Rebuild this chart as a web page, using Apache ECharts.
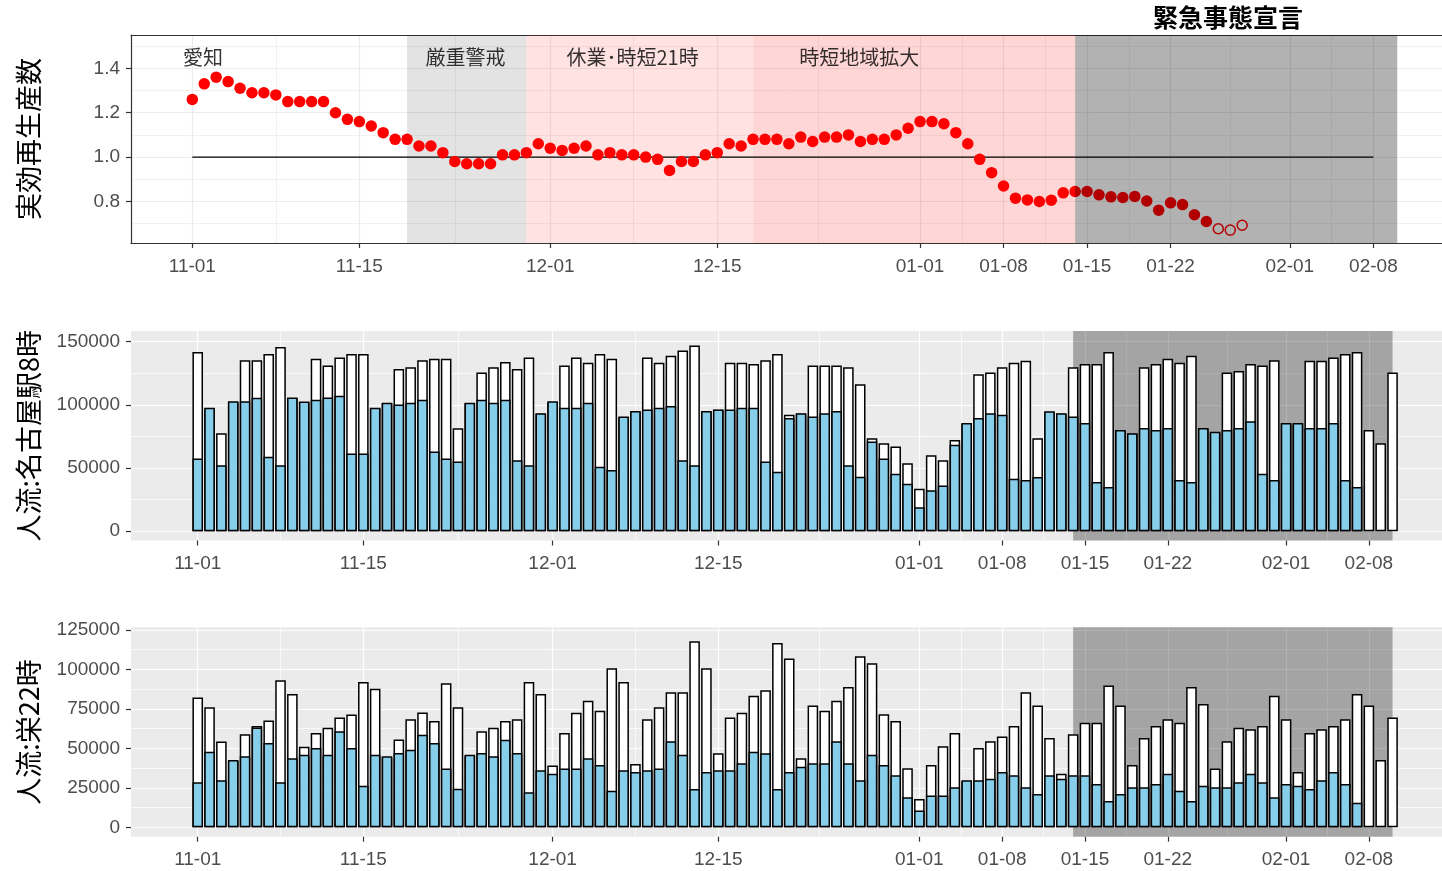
<!DOCTYPE html>
<html><head><meta charset="utf-8">
<script src="https://cdn.jsdelivr.net/npm/echarts@6/dist/echarts.min.js"></script>
<style>html,body{margin:0;padding:0;background:#fff}#c{width:1442px;height:871px}</style>
</head><body><div id="c"></div>
<script>
// ---- x axis (day offset from 11-01) ----
const tickDays = [0, 14, 30, 44, 61, 68, 75, 82, 92, 99];
const tickLabels = ['11-01', '11-15', '12-01', '12-15', '01-01', '01-08', '01-15', '01-22', '02-01', '02-08'];
const minorDays = [7, 22, 37, 52.5, 64.5, 71.5, 78.5, 87, 95.5];

// ---- effective reproduction number ----
const rFirm = [1.26, 1.33, 1.36, 1.34, 1.31, 1.29, 1.29, 1.28, 1.25, 1.25, 1.25, 1.25, 1.20, 1.17, 1.16, 1.14, 1.11, 1.08, 1.08, 1.05,
  1.05, 1.02, 0.98, 0.97, 0.97, 0.97, 1.01, 1.01, 1.02, 1.06, 1.04, 1.03, 1.04, 1.05, 1.01, 1.02, 1.01, 1.01, 1.00, 0.99,
  0.94, 0.98, 0.98, 1.01, 1.02, 1.06, 1.05, 1.08, 1.08, 1.08, 1.06, 1.09, 1.07, 1.09, 1.09, 1.10, 1.07, 1.08, 1.08, 1.10,
  1.13, 1.16, 1.16, 1.15, 1.11, 1.06, 0.99, 0.93, 0.87, 0.815, 0.807, 0.80, 0.806, 0.839, 0.845, 0.845, 0.83, 0.821, 0.818, 0.823,
  0.802, 0.761, 0.794, 0.786, 0.74, 0.71];
const rProvisional = [0.677, 0.671, 0.693];
const refLineDays = [0, 99];
const refValue = 1;

// ---- shaded periods (top panel) ----
const periodStart = [18, 28, 47];
const periodEnd = [28, 47, 74];
const emergencyStart = [74];
const emergencyEnd = [101];
const emergencyTitle = '緊急事態宣言';
const annotText = ['愛知', '厳重警戒', '休業･時短21時', '時短地域拡大'];
const annotDay = [0.9, 22.9, 36.9, 55.9];
const annotValue = [1.45, 1.45, 1.45, 1.45];

// ---- 人流: 名古屋駅 8時 ----
const nagoyaWhite = [141700, 97000, 77400, 102000, 135200, 135200, 140200, 145700, 105000, 102000,
  136500, 131000, 137500, 140200, 140200, 97000, 101000, 128400, 129700, 135200,
  136500, 136500, 81400, 101000, 125500, 129700, 133900, 128400, 137500, 93000,
  102000, 131000, 137500, 133300, 140200, 136500, 90000, 94500, 137500, 133300,
  138900, 143000, 147000, 94500, 96000, 133300, 133300, 132300, 135200, 140200,
  92100, 93000, 131000, 131000, 131000, 129700, 116300, 73500, 69600, 66900,
  53800, 33600, 60100, 56200, 72200, 85000, 124200, 125500, 129700, 133300,
  134900, 73500, 94000, 93000, 129700, 132300, 132300, 141700, 79500, 77000,
  129700, 132300, 136500, 133300, 138900, 81000, 78000, 125500, 126800, 132300,
  131000, 135200, 85000, 85000, 134900, 134900, 137500, 140200, 141700, 80100,
  69600, 125500];
const nagoyaBlue = [57500, 97600, 52200, 102900, 102900, 105500, 58800, 52200, 105800, 102600,
  104000, 105800, 107100, 61400, 61400, 97600, 101600, 100300, 101600, 104000,
  63000, 57500, 55100, 101600, 104000, 101600, 104000, 56200, 52200, 93400,
  102900, 97600, 97600, 101600, 50900, 48300, 90800, 95000, 96300, 97600,
  99000, 56200, 52200, 95000, 96300, 96300, 97600, 97600, 55100, 47000,
  89500, 93400, 90800, 93400, 95000, 52200, 43100, 70900, 57500, 45400,
  37500, 18900, 32300, 36200, 68300, 85600, 89500, 93400, 92100, 41500,
  40400, 42800, 94800, 93400, 90800, 85600, 38800, 34900, 80100, 77400,
  81600, 80100, 81600, 40400, 38800, 81600, 78700, 80100, 81600, 86900,
  45400, 40400, 85600, 85600, 81600, 81600, 85600, 40400, 34900];

// ---- 人流: 栄 22時 ----
const sakaeWhite = [82300, 76000, 54300, 42000, 58900, 64200, 67600, 93100, 84400, 51100,
  59700, 63100, 69500, 71400, 92000, 87800, 44000, 55700, 68400, 72800,
  67300, 91200, 76000, 45000, 60800, 63100, 67300, 68400, 92000, 84400,
  39100, 59700, 72600, 80200, 73900, 100700, 92000, 40100, 68400, 76000,
  85500, 85500, 117800, 100700, 46900, 69500, 72600, 83400, 86800, 116700,
  107000, 43700, 77100, 73900, 80200, 88900, 108300, 103900, 71600, 67300,
  37400, 17900, 39500, 51300, 59700, 29000, 50200, 54500, 57600, 64200,
  85500, 77100, 56600, 34000, 58900, 66300, 66300, 89900, 77100, 39500,
  56600, 64200, 68400, 66300, 88900, 78100, 37200, 54500, 63100, 62100,
  64200, 83400, 68400, 35000, 59700, 62100, 64200, 68400, 84400, 77100,
  42600, 69500];
const sakaeBlue = [28500, 47900, 29800, 42600, 45000, 63300, 53400, 28500, 43700, 46000,
  50200, 46000, 60800, 50200, 26400, 46000, 45000, 47100, 49200, 58700,
  53400, 37200, 24500, 46000, 47100, 45000, 55500, 47100, 22200, 36100,
  34000, 37200, 37200, 43700, 39500, 23200, 36100, 35000, 36100, 37200,
  54500, 46000, 24300, 35000, 36100, 36100, 40500, 47900, 46900, 24300,
  35000, 38400, 40500, 40500, 54500, 40500, 29800, 46000, 39500, 32900,
  19000, 10600, 20100, 20100, 25300, 29800, 29800, 30800, 35000, 32900,
  25300, 21100, 32900, 30800, 32900, 32900, 27400, 16700, 21100, 25300,
  25300, 27400, 34000, 23200, 16700, 26400, 25300, 25300, 28500, 34000,
  28500, 19000, 27400, 26400, 24300, 29800, 35000, 27400, 15600];

// ---- styling ----
const LBL = { color: '#4d4d4d', fontSize: 19, fontFamily: 'Liberation Sans, Arial, sans-serif' };
const JP = 'Noto Sans CJK JP';
const pts = arr => arr.map((v, i) => [i, v]);

function regionItem(colors) {
  return function (params, api) {
    const cs = params.coordSys;
    const x0 = api.coord([api.value(0), api.value(1)])[0];
    const x1 = api.coord([api.value(1), api.value(1)])[0];
    return { type: 'rect', shape: { x: x0, y: cs.y, width: x1 - x0, height: cs.height },
      style: { fill: colors[api.value(2)] }, silent: true };
  };
}
const lightColors = ['rgba(0,0,0,0.11)', 'rgba(255,0,0,0.11)', 'rgba(255,0,0,0.16)'];
const darkColors = ['rgba(0,0,0,0.3)'];
const lightData = periodStart.map((s, i) => [s, periodEnd[i], i]);
const darkData = emergencyStart.map((s, i) => [s, emergencyEnd[i], 0]);

const grids = [
  { left: 131, right: 0, top: 35, height: 208, show: true, backgroundColor: '#fff', borderWidth: 0 },
  { left: 131, right: 0, top: 331, height: 209.5, show: true, backgroundColor: '#ebebeb', borderWidth: 0 },
  { left: 131, right: 0, top: 627.3, height: 209.4, show: true, backgroundColor: '#ebebeb', borderWidth: 0 }
];
const xRange = [[-5.14, 104.75], [-5.64, 105.18], [-5.64, 105.18]];
const yRange = [[0.613, 1.55], [-7400, 158400], [-5950, 126700]];
const yMajor = [[0.8, 1.0, 1.2, 1.4], [0, 50000, 100000, 150000], [0, 25000, 50000, 75000, 100000, 125000]];
const yMinor = [[0.7, 0.9, 1.1, 1.3, 1.5], [25000, 75000, 125000], [12500, 37500, 62500, 87500, 112500]];
const yNames = ['実効再生産数', '人流:名古屋駅8時', '人流:栄22時'];

const frame = { color: '#333', width: 1.2 };
const xAxis = [], yAxis = [];
for (let g = 0; g < 3; g++) {
  const gl = g === 0 ? '#ebebeb' : '#ffffff';
  xAxis.push({
    type: 'value', gridIndex: g, min: xRange[g][0], max: xRange[g][1], position: 'bottom',
    axisLine: { show: g === 0, onZero: false, lineStyle: frame },
    axisTick: { show: true, length: 5, customValues: tickDays, lineStyle: frame },
    axisLabel: Object.assign({ customValues: tickDays, margin: 14,
      formatter: v => tickLabels[tickDays.indexOf(v)] || '' }, LBL),
    splitLine: { show: true, lineStyle: { color: gl, width: 1.2 } }
  });
  xAxis.push({
    type: 'value', gridIndex: g, min: xRange[g][0], max: xRange[g][1], position: 'top',
    axisLine: { show: g === 0, onZero: false, lineStyle: frame }, axisLabel: { show: false },
    axisTick: { show: false, customValues: minorDays },
    splitLine: { show: true, lineStyle: { color: gl, width: 0.7 } }
  });
  yAxis.push({
    type: 'value', gridIndex: g, min: yRange[g][0], max: yRange[g][1], position: 'left',
    name: yNames[g], nameLocation: 'middle', nameGap: 89,
    nameTextStyle: { fontSize: 27, fontFamily: JP, color: '#000' },
    axisLine: { show: g === 0, onZero: false, lineStyle: frame },
    axisTick: { show: true, length: 5, customValues: yMajor[g], lineStyle: frame },
    axisLabel: Object.assign({ customValues: yMajor[g], margin: 11,
      formatter: v => g === 0 ? v.toFixed(1) : String(v) }, LBL),
    splitLine: { show: true, lineStyle: { color: gl, width: 1.2 } }
  });
  yAxis.push({
    type: 'value', gridIndex: g, min: yRange[g][0], max: yRange[g][1], position: 'right',
    axisLine: { show: false }, axisLabel: { show: false },
    axisTick: { show: false, customValues: yMinor[g] },
    splitLine: { show: true, lineStyle: { color: gl, width: 0.7 } }
  });
}

const barBorder = { borderColor: '#000', borderWidth: 1.5 };
const series = [
  { type: 'custom', xAxisIndex: 0, yAxisIndex: 0, z: 1, renderItem: regionItem(lightColors), data: lightData, silent: true },
  { type: 'line', xAxisIndex: 0, yAxisIndex: 0, z: 3, symbol: 'none', data: refLineDays.map(d => [d, refValue]),
    lineStyle: { color: '#000', width: 1.4 }, silent: true },
  { type: 'scatter', xAxisIndex: 0, yAxisIndex: 0, z: 4, symbol: 'circle', symbolSize: 11.5,
    itemStyle: { color: '#ff0000', opacity: 1 }, data: pts(rFirm), silent: true },
  { type: 'scatter', xAxisIndex: 0, yAxisIndex: 0, z: 4, symbol: 'circle', symbolSize: 10,
    itemStyle: { color: 'rgba(0,0,0,0)', borderColor: '#ff0000', borderWidth: 1.5, opacity: 1 },
    data: rProvisional.map((v, i) => [rFirm.length + i, v]), silent: true },
  { type: 'scatter', xAxisIndex: 0, yAxisIndex: 0, z: 5, symbolSize: 0, silent: true,
    data: annotText.map((t, i) => ({ name: t, value: [annotDay[i], annotValue[i]] })),
    label: { show: true, position: 'inside', formatter: p => p.name, fontSize: 20, fontFamily: JP, color: '#000' } },
  { type: 'custom', xAxisIndex: 0, yAxisIndex: 0, z: 10, renderItem: regionItem(darkColors), data: darkData, silent: true },

  { type: 'custom', xAxisIndex: 2, yAxisIndex: 2, z: 1, renderItem: regionItem(darkColors), data: darkData, silent: true },
  { type: 'bar', xAxisIndex: 2, yAxisIndex: 2, z: 2, barWidth: 10.6, barGap: '-100%', data: pts(nagoyaWhite),
    itemStyle: Object.assign({ color: '#ffffff' }, barBorder), silent: true },
  { type: 'bar', xAxisIndex: 2, yAxisIndex: 2, z: 2, barWidth: 10.6, barGap: '-100%', data: pts(nagoyaBlue),
    itemStyle: Object.assign({ color: '#87ceeb' }, barBorder), silent: true },

  { type: 'custom', xAxisIndex: 4, yAxisIndex: 4, z: 1, renderItem: regionItem(darkColors), data: darkData, silent: true },
  { type: 'bar', xAxisIndex: 4, yAxisIndex: 4, z: 2, barWidth: 10.6, barGap: '-100%', data: pts(sakaeWhite),
    itemStyle: Object.assign({ color: '#ffffff' }, barBorder), silent: true },
  { type: 'bar', xAxisIndex: 4, yAxisIndex: 4, z: 2, barWidth: 10.6, barGap: '-100%', data: pts(sakaeBlue),
    itemStyle: Object.assign({ color: '#87ceeb' }, barBorder), silent: true }
];

const chart = echarts.init(document.getElementById('c'), null, { renderer: 'canvas' });
chart.setOption({
  animation: false,
  backgroundColor: '#ffffff',
  grid: grids,
  xAxis: xAxis,
  yAxis: yAxis,
  series: series,
  graphic: [{
    type: 'text', x: 1228, y: 17, silent: true,
    style: { text: emergencyTitle, font: 'bold 25px "Noto Sans CJK JP"', fill: '#000',
      align: 'center', verticalAlign: 'middle', textAlign: 'center', textVerticalAlign: 'middle' }
  }]
});
</script></body></html>
